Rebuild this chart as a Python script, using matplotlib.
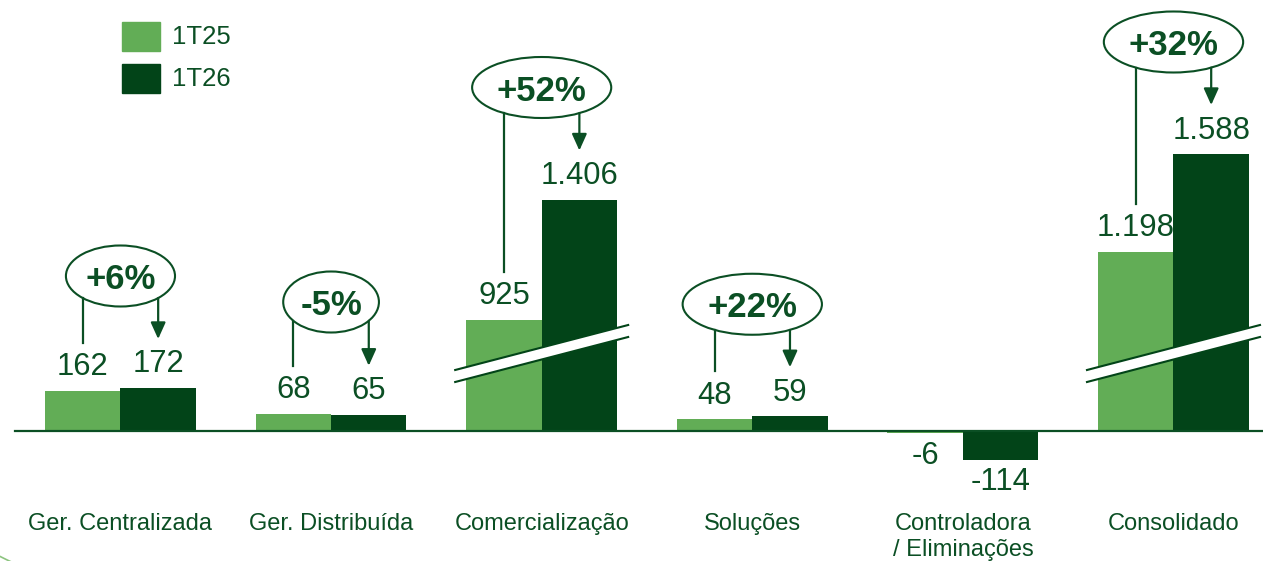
import numpy as np
import matplotlib
matplotlib.use('Agg')
import matplotlib.pyplot as plt
from matplotlib.patches import Ellipse, Polygon, Rectangle, Arc
from matplotlib.transforms import IdentityTransform

# Data
categories = ['Ger. Centralizada', 'Ger. Distribuída', 'Comercialização',
              'Soluções', 'Controladora\n/ Eliminações', 'Consolidado']
q1_25 = [162, 68, 925, 48, -6, 1198]
q1_26 = [172, 65, 1406, 59, -114, 1588]
series_names = ['1T25', '1T26']
var_labels = ['+6%', '-5%', '+52%', '+22%', None, '+32%']
broken = [False, False, True, False, False, True]

LIGHT = '#62ad56'
DARK = '#024418'
INK = '#0b4f24'
BREAK_CUT = 480  # units hidden by the axis break on the tall groups

plt.rcParams['font.family'] = ['Liberation Sans', 'DejaVu Sans']

fig = plt.figure(figsize=(12.63, 5.61), dpi=100)
ax = fig.add_axes([0, 0, 1, 1])
ax.set_xlim(-0.572, 5.425)
ax.set_ylim(-520, 1724)
ax.axis('off')

PX_X = 1263 / (5.425 + 0.572)   # pixels per group
PX_Y = (1724 + 520) / 561       # value units per pixel

x = np.arange(len(categories))
w = 0.358
shown25 = [v - BREAK_CUT if b else v for v, b in zip(q1_25, broken)]
shown26 = [v - BREAK_CUT if b else v for v, b in zip(q1_26, broken)]

ax.bar(x - w / 2, shown25, w, color=LIGHT, zorder=2)
ax.bar(x + w / 2, shown26, w, color=DARK, zorder=2)
ax.axhline(0, xmin=15 / 1263, xmax=1, color=INK, lw=1.6, zorder=4)


def fmt(v):
    return f'{v:,}'.replace(',', '.')


# value labels
for xs, vals, shown in [(x - w / 2, q1_25, shown25), (x + w / 2, q1_26, shown26)]:
    for xi, v, s in zip(xs, vals, shown):
        off = 23.5 * PX_Y if s >= 0 else -23 * PX_Y
        ax.text(xi, s + off, fmt(v), ha='center', va='center',
                fontsize=22.3, color=INK)

# axis breaks
half = 86.5 / PX_X
for xi, b in zip(x, broken):
    if not b:
        continue
    xl, xr = xi - half, xi + half
    top = [244, 424]
    bot = [196, 376]
    ax.add_patch(Polygon([(xl, bot[0]), (xl, top[0]), (xr, top[1]), (xr, bot[1])],
                         closed=True, fc='white', ec='none', zorder=5))
    ax.plot([xl, xr], top, color=DARK, lw=1.5, zorder=6)
    ax.plot([xl, xr], bot, color=DARK, lw=1.5, zorder=6)

# category labels
for xi, cat in zip(x, categories):
    ax.text(xi, (431 - 513) * PX_Y, cat, ha='center', va='top',
            fontsize=17, color=INK, linespacing=1.25)

# variation bubbles
fig.canvas.draw()
r = fig.canvas.get_renderer()
for i, lab in enumerate(var_labels):
    if lab is None:
        continue
    cy = max(shown25[i], shown26[i]) + 112 * PX_Y
    t = ax.text(x[i], cy, lab, ha='center', va='center_baseline',
                fontsize=25, fontweight='bold', color=INK, zorder=7)
    tw = t.get_window_extent(r).width
    ew = tw * 1.55 / PX_X
    eh = 61 * PX_Y
    ax.add_patch(Ellipse((x[i], cy), ew, eh, fill=False, ec=INK, lw=1.5, zorder=7))

    def edge(xx):
        return cy - eh / 2 * np.sqrt(max(0.0, 1 - ((xx - x[i]) / (ew / 2)) ** 2))

    xl = x[i] - w / 2
    ax.plot([xl, xl], [edge(xl), shown25[i] + 48 * PX_Y], color=INK, lw=1.6, zorder=7)
    xr = x[i] + w / 2
    ax.annotate('', xy=(xr, shown26[i] + 49 * PX_Y), xytext=(xr, edge(xr)),
                arrowprops=dict(arrowstyle='-|>,head_length=1.0,head_width=0.45',
                                mutation_scale=10, color=INK, lw=1.6,
                                shrinkA=0, shrinkB=0), zorder=7)

# legend
for k, (name, col) in enumerate(zip(series_names, [LIGHT, DARK])):
    y_top = 22 + 42 * k
    ax.add_patch(Rectangle((122 / 1263, 1 - (y_top + 28.5) / 561), 38 / 1263, 28.5 / 561,
                           transform=ax.transAxes, color=col))
    ax.text(172 / 1263, 1 - (y_top + 15) / 561, name, transform=ax.transAxes,
            ha='left', va='center', fontsize=18.5, color=INK)

# slide decoration in the corner
ax.add_patch(Arc((138, 271), 600, 600, theta1=238, theta2=250,
                 transform=IdentityTransform(), color='#8cc47f', lw=1.2))

fig.savefig('out.png', dpi=100)
